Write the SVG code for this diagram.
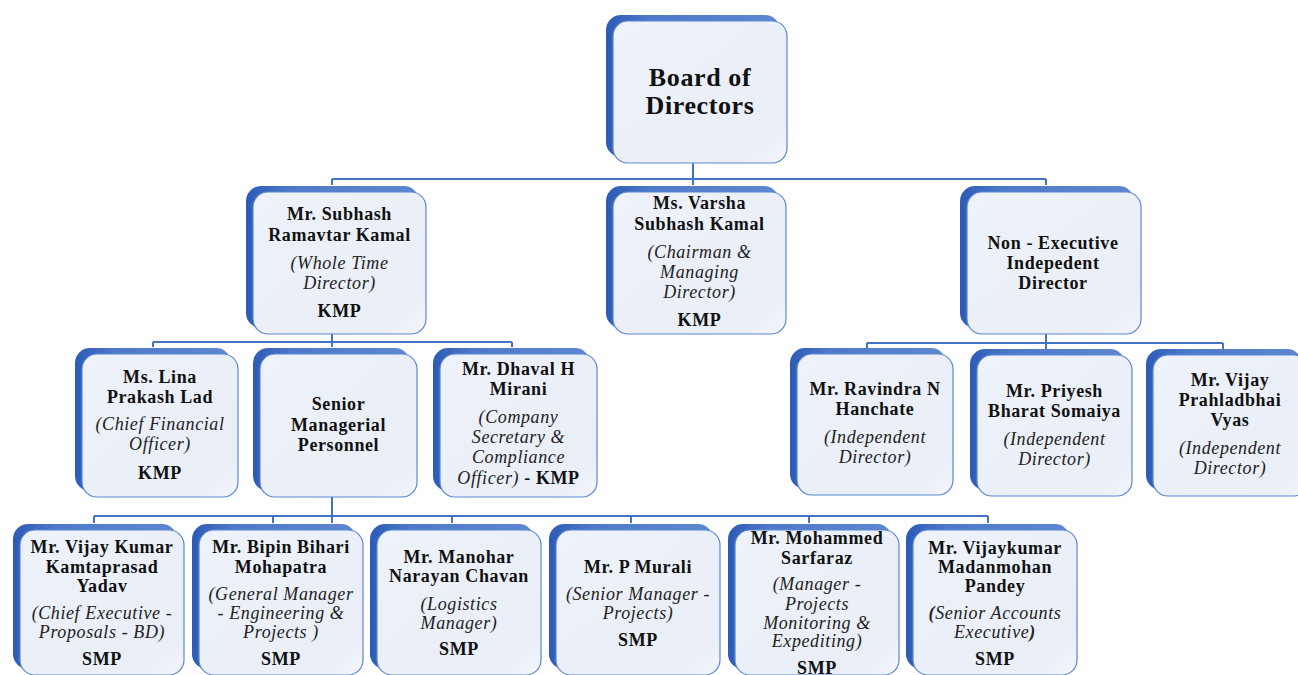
<svg xmlns="http://www.w3.org/2000/svg" width="1298" height="675" viewBox="0 0 1298 675">
<style>
.bk{fill:url(#gb)}
.fr{fill:url(#gf);stroke:#5B87D2;stroke-width:1.2}
.cn{fill:none;stroke:#4472C4;stroke-width:2}
text{font-family:"Liberation Serif","Times New Roman",serif;font-size:18px;fill:#111;text-anchor:middle;letter-spacing:0.6px}
.b{font-weight:bold}
.i{font-style:italic;fill:#222}
.t{font-size:26px;font-weight:bold}
</style>
<defs>
<linearGradient id="gb" x1="0" y1="0" x2="1" y2="0">
<stop offset="0" stop-color="#2C5BB6"/>
<stop offset="0.25" stop-color="#4E78C9"/>
<stop offset="1" stop-color="#5F86D0"/>
</linearGradient>
<linearGradient id="gf" x1="0" y1="0" x2="1" y2="1">
<stop offset="0" stop-color="#EEF2FA"/>
<stop offset="0.85" stop-color="#E9EEF7"/>
<stop offset="1" stop-color="#F4F6FA"/>
</linearGradient>
</defs>
<g id="connectors">
<path class="cn" d="M693 163V185M332 179H1046M332 179V185M1046 179V185"/>
<path class="cn" d="M332 334V347M153 342H512M153 342V347M512 342V347"/>
<path class="cn" d="M332 497V523M94 516H988M94 516V523M273 516V523M452 516V523M631 516V523M809 516V523M988 516V523"/>
<path class="cn" d="M1046 334V349M867 343H1223M867 343V349M1223 343V349"/>
</g>
<g id="board">
<rect class="bk" x="606" y="15" width="174" height="142" rx="15"/>
<rect class="fr" x="613" y="21" width="174" height="142" rx="15"/>
<text class="t" x="700" y="86">Board of</text>
<text class="t" x="700" y="114">Directors</text>
</g>
<g id="subhash">
<rect class="bk" x="246" y="186" width="173" height="142" rx="15"/>
<rect class="fr" x="253" y="192" width="173" height="142" rx="15"/>
<text class="b" x="339.5" y="220">Mr. Subhash</text>
<text class="b" x="339.5" y="241">Ramavtar Kamal</text>
<text class="i" x="339.5" y="269">(Whole Time</text>
<text class="i" x="339.5" y="289">Director)</text>
<text class="b" x="339.5" y="317">KMP</text>
</g>
<g id="varsha">
<rect class="bk" x="606" y="186" width="173" height="142" rx="15"/>
<rect class="fr" x="613" y="192" width="173" height="142" rx="15"/>
<text class="b" x="699.5" y="209">Ms. Varsha</text>
<text class="b" x="699.5" y="230">Subhash Kamal</text>
<text class="i" x="699.5" y="257.5">(Chairman &amp;</text>
<text class="i" x="699.5" y="277.5">Managing</text>
<text class="i" x="699.5" y="297.5">Director)</text>
<text class="b" x="699.5" y="326">KMP</text>
</g>
<g id="nonexec">
<rect class="bk" x="960" y="186" width="174" height="142" rx="15"/>
<rect class="fr" x="967" y="192" width="174" height="142" rx="15"/>
<text class="b" x="1053" y="248.5">Non - Executive</text>
<text class="b" x="1053" y="268.5">Indepedent</text>
<text class="b" x="1053" y="289">Director</text>
</g>
<g id="lina">
<rect class="bk" x="75" y="348" width="156" height="143" rx="15"/>
<rect class="fr" x="82" y="354" width="156" height="143" rx="15"/>
<text class="b" x="160" y="383">Ms. Lina</text>
<text class="b" x="160" y="403">Prakash Lad</text>
<text class="i" x="160" y="430">(Chief Financial</text>
<text class="i" x="160" y="449.5">Officer)</text>
<text class="b" x="160" y="478.5">KMP</text>
</g>
<g id="senior">
<rect class="bk" x="253" y="348" width="157" height="143" rx="15"/>
<rect class="fr" x="260" y="354" width="157" height="143" rx="15"/>
<text class="b" x="338.5" y="410">Senior</text>
<text class="b" x="338.5" y="430.5">Managerial</text>
<text class="b" x="338.5" y="451">Personnel</text>
</g>
<g id="dhaval">
<rect class="bk" x="433" y="348" width="157" height="143" rx="15"/>
<rect class="fr" x="440" y="354" width="157" height="143" rx="15"/>
<text class="b" x="518.5" y="375">Mr. Dhaval H</text>
<text class="b" x="518.5" y="395">Mirani</text>
<text class="i" x="518.5" y="423">(Company</text>
<text class="i" x="518.5" y="443">Secretary &amp;</text>
<text class="i" x="518.5" y="463">Compliance</text>
<text x="518.5" y="483.5"><tspan class="i">Officer)</tspan><tspan class="b"> - KMP</tspan></text>
</g>
<g id="ravindra">
<rect class="bk" x="790" y="348" width="156" height="141" rx="15"/>
<rect class="fr" x="797" y="354" width="156" height="141" rx="15"/>
<text class="b" x="875" y="395">Mr. Ravindra N</text>
<text class="b" x="875" y="415">Hanchate</text>
<text class="i" x="875" y="443">(Independent</text>
<text class="i" x="875" y="463">Director)</text>
</g>
<g id="priyesh">
<rect class="bk" x="970" y="349" width="155" height="141" rx="15"/>
<rect class="fr" x="977" y="355" width="155" height="141" rx="15"/>
<text class="b" x="1054.5" y="397">Mr. Priyesh</text>
<text class="b" x="1054.5" y="417">Bharat Somaiya</text>
<text class="i" x="1054.5" y="444.5">(Independent</text>
<text class="i" x="1054.5" y="464.5">Director)</text>
</g>
<g id="vijayp">
<rect class="bk" x="1146" y="349" width="156" height="141" rx="15"/>
<rect class="fr" x="1153" y="355" width="156" height="141" rx="15"/>
<text class="b" x="1230" y="386">Mr. Vijay</text>
<text class="b" x="1230" y="406">Prahladbhai</text>
<text class="b" x="1230" y="426">Vyas</text>
<text class="i" x="1230" y="453.5">(Independent</text>
<text class="i" x="1230" y="473.5">Director)</text>
</g>
<g id="vijaykumar">
<rect class="bk" x="13" y="524" width="164" height="145" rx="15"/>
<rect class="fr" x="20" y="530" width="164" height="145" rx="15"/>
<text class="b" x="102" y="553">Mr. Vijay Kumar</text>
<text class="b" x="102" y="572.5">Kamtaprasad</text>
<text class="b" x="102" y="592">Yadav</text>
<text class="i" x="102" y="618.5">(Chief Executive -</text>
<text class="i" x="102" y="637.5">Proposals - BD)</text>
<text class="b" x="102" y="664.5">SMP</text>
</g>
<g id="bipin">
<rect class="bk" x="192" y="524" width="164" height="145" rx="15"/>
<rect class="fr" x="199" y="530" width="164" height="145" rx="15"/>
<text class="b" x="281" y="553">Mr. Bipin Bihari</text>
<text class="b" x="281" y="572.5">Mohapatra</text>
<text class="i" x="281" y="599.5">(General Manager</text>
<text class="i" x="281" y="618.5">- Engineering &amp;</text>
<text class="i" x="281" y="637.5">Projects )</text>
<text class="b" x="281" y="664.5">SMP</text>
</g>
<g id="manohar">
<rect class="bk" x="370" y="524" width="164" height="145" rx="15"/>
<rect class="fr" x="377" y="530" width="164" height="145" rx="15"/>
<text class="b" x="459" y="563">Mr. Manohar</text>
<text class="b" x="459" y="582">Narayan Chavan</text>
<text class="i" x="459" y="609.5">(Logistics</text>
<text class="i" x="459" y="628.5">Manager)</text>
<text class="b" x="459" y="655">SMP</text>
</g>
<g id="murali">
<rect class="bk" x="549" y="524" width="164" height="145" rx="15"/>
<rect class="fr" x="556" y="530" width="164" height="145" rx="15"/>
<text class="b" x="638" y="573">Mr. P Murali</text>
<text class="i" x="638" y="600">(Senior Manager -</text>
<text class="i" x="638" y="618.5">Projects)</text>
<text class="b" x="638" y="646">SMP</text>
</g>
<g id="mohammed">
<rect class="bk" x="728" y="524" width="164" height="145" rx="15"/>
<rect class="fr" x="735" y="530" width="164" height="145" rx="15"/>
<text class="b" x="817" y="543.5">Mr. Mohammed</text>
<text class="b" x="817" y="563.5">Sarfaraz</text>
<text class="i" x="817" y="590">(Manager -</text>
<text class="i" x="817" y="609.5">Projects</text>
<text class="i" x="817" y="628.5">Monitoring &amp;</text>
<text class="i" x="817" y="647">Expediting)</text>
<text class="b" x="817" y="673.5">SMP</text>
</g>
<g id="vijaykumar-pandey">
<rect class="bk" x="906" y="524" width="164" height="145" rx="15"/>
<rect class="fr" x="913" y="530" width="164" height="145" rx="15"/>
<text class="b" x="995" y="553.5">Mr. Vijaykumar</text>
<text class="b" x="995" y="573">Madanmohan</text>
<text class="b" x="995" y="592">Pandey</text>
<text class="i" x="995" y="618.5"><tspan class="b">(</tspan>Senior Accounts</text>
<text class="i" x="995" y="637.5">Executive<tspan class="b">)</tspan></text>
<text class="b" x="995" y="664.5">SMP</text>
</g>
</svg>
